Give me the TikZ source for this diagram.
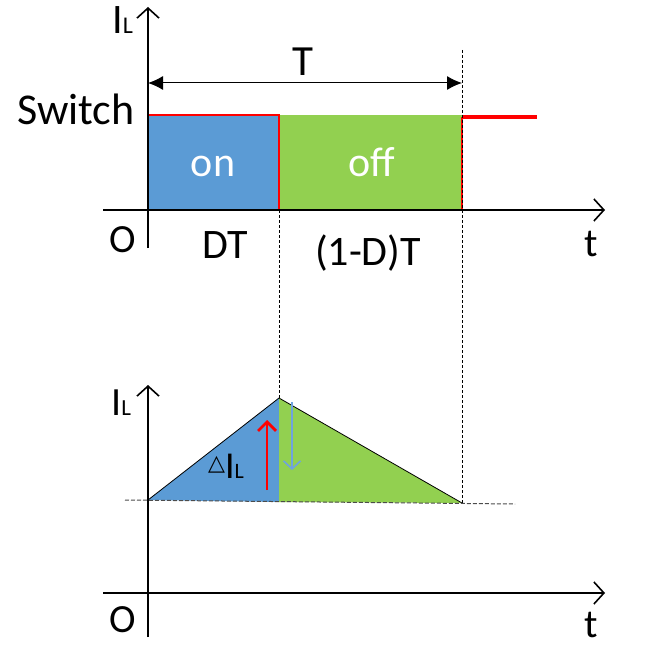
\documentclass[tikz,border=0pt]{standalone}
\usepackage{fontspec}
\setmainfont{Carlito}
\newfontfamily\symfont{DejaVu Sans}
\usetikzlibrary{arrows.meta}
\definecolor{onblue}{HTML}{5B9BD5}
\definecolor{offgreen}{HTML}{92D050}
\definecolor{downblue}{HTML}{6FA3DE}
\definecolor{sigred}{HTML}{FF0000}
\begin{document}
\begin{tikzpicture}[x=1pt,y=-1pt,
  axis/.style={line width=1.6pt,-{Straight Barb[length=10pt,width=22pt,line width=1.6pt]}},
  period/.style={line width=1pt,{Latex[length=15pt,width=14pt]}-{Latex[length=15pt,width=14pt]}},
  guide/.style={line width=0.8pt,dash pattern=on 3pt off 2pt},
  base/.style={line width=1pt,dash pattern=on 4pt off 2pt,black!70},
  lbl/.style={inner sep=0pt,anchor=base,font=\fontsize{42}{46}\selectfont},
  small/.style={inner sep=0pt,anchor=base,font=\fontsize{40}{44}\selectfont}]
\useasboundingbox (0,0) rectangle (653,647);
% ---------- top plot ----------
\coordinate (a1) at (148,115);
\coordinate (a2) at (279,210);
\coordinate (b1) at (279,115);
\coordinate (b2) at (462,210);
\coordinate (c1) at (462,117);
\coordinate (c2) at (537,117);
\fill[onblue] (a1) rectangle (a2);
\fill[offgreen] (b1) rectangle (b2);
\draw[sigred,line width=1.2pt] (a1) -- (b1) -- (279,210) -- (b2) -- (c1);
\draw[sigred,line width=4pt] (c1) -- (c2);
\coordinate (xs1) at (103,210);
\coordinate (xe1) at (605,210);
\coordinate (ys1) at (148,248);
\coordinate (ye1) at (148,7);
\draw[axis] (xs1) -- (xe1);
\draw[axis] (ys1) -- (ye1);
\coordinate (tl) at (148,83);
\coordinate (tr) at (462,83);
\draw[period] (tl) -- (tr);
\coordinate (g1t) at (279,210);
\coordinate (g1b) at (279,398);
\coordinate (g2t) at (462,50);
\coordinate (g2b) at (462,503);
\draw[guide] (g1t) -- (g1b);
\draw[guide] (g2t) -- (g2b);
\node[lbl,font=\fontsize{43}{46}\selectfont] (Tlab) at (303,76) {T};
\node[lbl,anchor=base west,font=\fontsize{44}{48}\selectfont] (sw) at (17,125) {Switch};
\node[lbl,text=white] (on) at (213,177) {on};
\node[lbl,text=white] (off) at (372,177) {off};
\node[small] (O1) at (123,252) {O};
\node[lbl] (DT) at (225,258) {DT};
\node[lbl] (DT2) at (368,265) {(1-D)T};
\node[small,font=\fontsize{40}{42}\selectfont] (t1) at (591,256) {t};
\node[inner sep=0pt,anchor=base west] (IL1) at (112,34) {\fontsize{42}{44}\selectfont I\fontsize{24}{26}\selectfont L};
% ---------- bottom plot ----------
\coordinate (p0) at (148,500);
\coordinate (pk) at (279,398);
\coordinate (pm) at (279,502);
\coordinate (pe) at (462,503);
\fill[onblue] (p0) -- (pk) -- (pm) -- cycle;
\fill[offgreen] (pk) -- (pe) -- (pm) -- cycle;
\draw[line width=0.8pt] (p0) -- (pk) -- (pe);
\coordinate (bl) at (125,500);
\coordinate (br) at (515,504);
\draw[base] (bl) -- (br);
\coordinate (xs2) at (103,593);
\coordinate (xe2) at (605,593);
\coordinate (ys2) at (148,637);
\coordinate (ye2) at (148,385);
\draw[axis] (xs2) -- (xe2);
\draw[axis] (ys2) -- (ye2);
\coordinate (ru) at (267,490);
\coordinate (rt) at (267,420);
\draw[sigred,line width=2.8pt,-{Straight Barb[length=9pt,width=18pt,line width=2.8pt]}] (ru) -- (rt);
\coordinate (bu) at (292,402);
\coordinate (bd) at (292,470);
\draw[downblue,line width=1.6pt,-{Straight Barb[length=8pt,width=17pt,line width=1.6pt]}] (bu) -- (bd);
\node[inner sep=0pt,anchor=base west] (dIL) at (208,478) {\raisebox{8pt}{\symfont\fontsize{22}{22}\selectfont △}\fontsize{38}{40}\selectfont I\fontsize{22}{24}\selectfont L};
\node[small] (O2) at (123,632) {O};
\node[small,font=\fontsize{40}{42}\selectfont] (t2) at (591,637) {t};
\node[inner sep=0pt,anchor=base west] (IL2) at (111,415) {\fontsize{40}{42}\selectfont I\fontsize{23}{24}\selectfont L};
\end{tikzpicture}
\end{document}
